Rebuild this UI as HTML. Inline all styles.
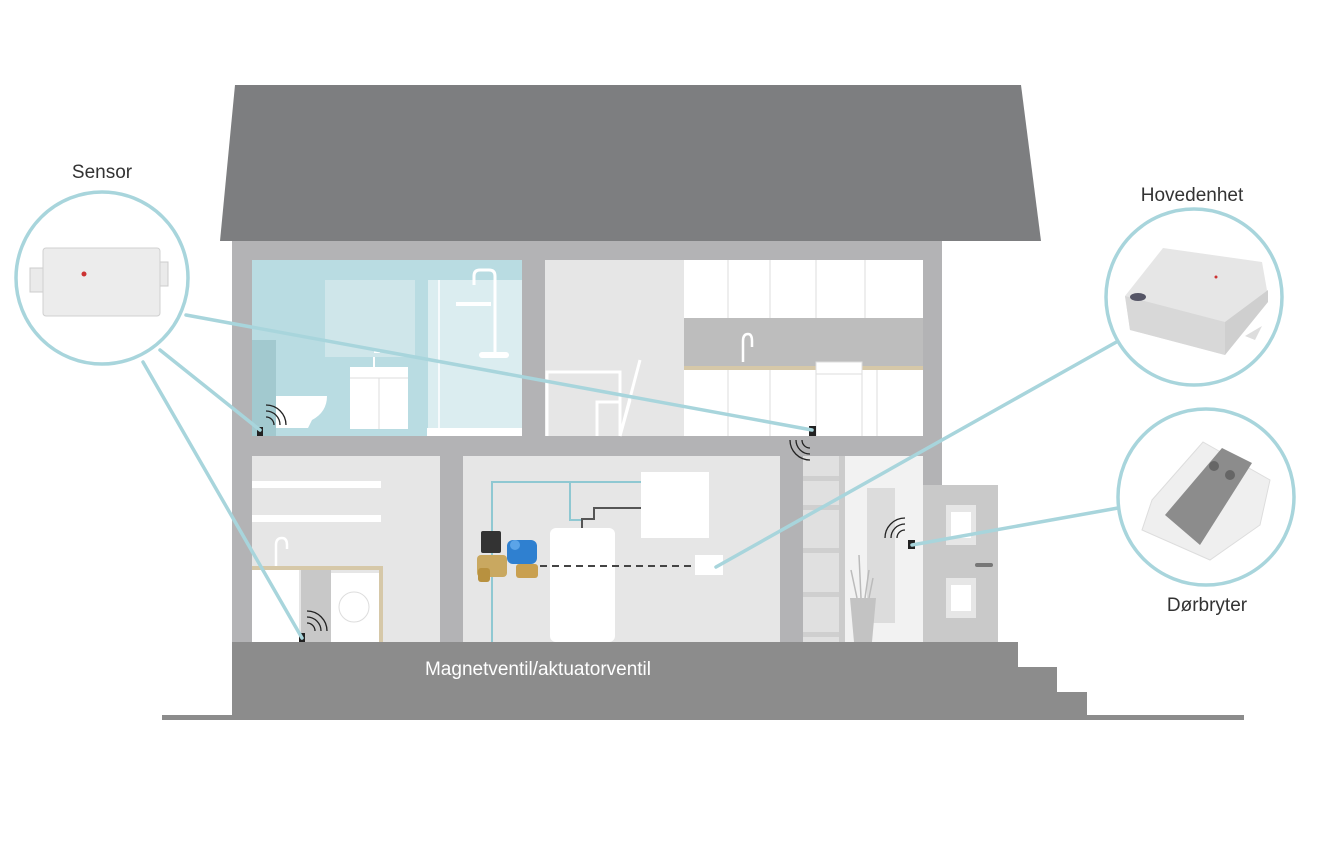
<!DOCTYPE html>
<html><head><meta charset="utf-8"><style>
html,body{margin:0;padding:0;background:#fff;width:1331px;height:842px;overflow:hidden}
text{font-family:"Liberation Sans",sans-serif}
</style></head><body>
<svg width="1331" height="842" viewBox="0 0 1331 842" xmlns="http://www.w3.org/2000/svg">
<rect width="1331" height="842" fill="#fff"/>
<polygon points="235,85 1021,85 1041,241 220,241" fill="#7d7e80"/>
<rect x="232" y="241" width="710" height="404" fill="#b3b3b5"/>
<!-- bathroom -->
<rect x="252" y="260" width="270" height="176" fill="#b9dce2"/>
<rect x="325" y="280" width="90" height="77" fill="#cfe6ea"/>
<rect x="428" y="280" width="94" height="148" fill="#dbedf0"/>
<rect x="427" y="428" width="95" height="8" fill="#fff"/>
<line x1="439" y1="280" x2="439" y2="428" stroke="#fff" stroke-width="1.5"/>
<path d="M474,285 V276 Q474,270 480,270 H489 Q495,270 495,276 V355" fill="none" stroke="#fff" stroke-width="3"/>
<rect x="456" y="302" width="35" height="4" fill="#fff"/>
<rect x="479" y="352" width="30" height="6" rx="3" fill="#fff"/>
<rect x="252" y="340" width="24" height="96" fill="#a2c9cf"/>
<path d="M276,396 H327 Q327,412 312,420 L308,428 H276 Z" fill="#fff"/>
<rect x="350" y="367" width="58" height="62" fill="#fff"/>
<line x1="350" y1="378" x2="408" y2="378" stroke="#ddd"/>
<line x1="379" y1="378" x2="379" y2="429" stroke="#ddd"/>
<path d="M374,367 V357 M374,352 h6" stroke="#fff" stroke-width="2"/>
<!-- kitchen -->
<rect x="545" y="260" width="378" height="176" fill="#e6e6e6"/>
<rect x="684" y="260" width="239" height="58" fill="#fff"/>
<rect x="684" y="318" width="239" height="48" fill="#bdbdbd"/>
<rect x="684" y="366" width="239" height="4" fill="#d6c8a8"/>
<rect x="684" y="370" width="239" height="66" fill="#fff"/>
<g stroke="#ddd" stroke-width="1">
<line x1="728" y1="260" x2="728" y2="318"/><line x1="770" y1="260" x2="770" y2="318"/><line x1="816" y1="260" x2="816" y2="318"/><line x1="865" y1="260" x2="865" y2="318"/>
<line x1="728" y1="370" x2="728" y2="436"/><line x1="770" y1="370" x2="770" y2="436"/><line x1="816" y1="363" x2="816" y2="436"/><line x1="862" y1="363" x2="862" y2="436"/><line x1="877" y1="370" x2="877" y2="436"/>
</g>
<rect x="816" y="362" width="46" height="12" fill="#fff" stroke="#ddd"/>
<path d="M743,362 V341 Q743,334 748,334 Q752,334 752,341 V347" fill="none" stroke="#fff" stroke-width="2.5"/>
<path d="M547,436 V372 H620 V436 M597,436 V402 H620 M620,436 L640,360 M620,436 L630,400" fill="none" stroke="#fff" stroke-width="3"/>
<!-- laundry -->
<rect x="252" y="456" width="188" height="186" fill="#e6e6e6"/>
<rect x="252" y="481" width="129" height="7" fill="#fff"/>
<rect x="252" y="515" width="129" height="7" fill="#fff"/>
<rect x="252" y="566" width="131" height="4" fill="#d6c8a8"/>
<rect x="379" y="566" width="4" height="76" fill="#d6c8a8"/>
<rect x="252" y="570" width="47" height="72" fill="#fff"/>
<rect x="301" y="570" width="30" height="72" fill="#c8c8c8"/>
<rect x="331" y="573" width="48" height="69" fill="#fff"/>
<circle cx="354" cy="607" r="15" fill="none" stroke="#ddd"/>
<path d="M276,566 V545 Q276,538 282,538 Q287,538 287,545 V549" fill="none" stroke="#fff" stroke-width="2.5"/>
<!-- utility -->
<rect x="463" y="456" width="317" height="186" fill="#e6e6e6"/>
<rect x="641" y="472" width="68" height="66" fill="#fff"/>
<rect x="550" y="528" width="65" height="114" rx="6" fill="#fff"/>
<path d="M492,642 V482 H641 M570,482 V520 H582" fill="none" stroke="#8fc8d2" stroke-width="2"/>
<path d="M582,528 V519 H594 V508 H641" fill="none" stroke="#555" stroke-width="2"/>
<line x1="540" y1="566" x2="695" y2="566" stroke="#444" stroke-width="2" stroke-dasharray="7,5"/>
<rect x="695" y="555" width="28" height="20" fill="#fff"/>
<rect x="481" y="531" width="20" height="22" rx="2" fill="#333"/>
<rect x="477" y="555" width="30" height="22" rx="4" fill="#c9a860"/>
<rect x="478" y="568" width="12" height="14" rx="3" fill="#b8913f"/>
<rect x="507" y="540" width="30" height="24" rx="6" fill="#2f80d0"/>
<circle cx="515" cy="545" r="5" fill="#5ba4e8"/>
<rect x="516" y="564" width="22" height="14" rx="3" fill="#c9a050"/>
<!-- stairs -->
<rect x="803" y="456" width="42" height="186" fill="#e0e0e0"/>
<g fill="#cfcfcf"><rect x="803" y="476" width="36" height="5"/><rect x="803" y="505" width="36" height="5"/><rect x="803" y="548" width="36" height="5"/><rect x="803" y="592" width="36" height="5"/><rect x="803" y="632" width="36" height="5"/></g>
<rect x="839" y="456" width="6" height="186" fill="#ccc"/>
<!-- hall -->
<rect x="845" y="456" width="78" height="186" fill="#f2f2f2"/>
<rect x="867" y="488" width="28" height="135" fill="#dcdcdc"/>
<polygon points="850,598 876,598 872,642 854,642" fill="#c3c3c3"/>
<path d="M857,598 L851,570 M861,598 L859,555 M865,598 L869,570 M869,598 L873,578" stroke="#bbb" stroke-width="1.5"/>
<!-- door -->
<rect x="923" y="485" width="75" height="157" fill="#c9c9c9"/>
<rect x="946" y="505" width="30" height="40" fill="#e6e6e6"/><rect x="951" y="512" width="20" height="26" fill="#fff"/>
<rect x="946" y="578" width="30" height="40" fill="#e6e6e6"/><rect x="951" y="585" width="20" height="26" fill="#fff"/>
<rect x="975" y="563" width="18" height="4" rx="2" fill="#777"/>
<!-- base -->
<polygon points="232,642 1018,642 1018,667 1057,667 1057,692 1087,692 1087,717 232,717" fill="#8c8c8c"/>
<rect x="162" y="715" width="1082" height="5" fill="#8c8c8c"/>
<text x="538" y="675" font-size="19" fill="#fff" text-anchor="middle">Magnetventil/aktuatorventil</text>
<!-- sensors -->
<g fill="#222"><rect x="257" y="427" width="6" height="9"/><rect x="809" y="426" width="7" height="10"/><rect x="299" y="633" width="6" height="9"/><rect x="908" y="540" width="7" height="9"/></g>
<g fill="none" stroke="#222" stroke-width="1.3">
<path d="M266,417 A8,8 0 0 1 274,425 M266,411 A14,14 0 0 1 280,425 M266,405 A20,20 0 0 1 286,425"/>
<path d="M307,623 A8,8 0 0 1 315,631 M307,617 A14,14 0 0 1 321,631 M307,611 A20,20 0 0 1 327,631"/>
<path d="M899,538 A8,8 0 0 1 907,530 M893,538 A14,14 0 0 1 907,524 M887,538 A20,20 0 0 1 907,518" transform="translate(-2,0)"/>
<path d="M802,440 A8,8 0 0 0 810,448 M796,440 A14,14 0 0 0 810,454 M790,440 A20,20 0 0 0 810,460"/>
</g>
<!-- connector lines -->
<g stroke="#a8d5dc" stroke-width="3.5" stroke-linecap="round">
<line x1="186" y1="315" x2="812" y2="430"/>
<line x1="160" y1="350" x2="260" y2="430"/>
<line x1="143" y1="362" x2="302" y2="638"/>
<line x1="1120" y1="340" x2="716" y2="567"/>
<line x1="1118" y1="508" x2="912" y2="545"/>
</g>
<circle cx="102" cy="278" r="86" fill="#fff" stroke="#a8d5dc" stroke-width="3.5"/>
<circle cx="1194" cy="297" r="88" fill="#fff" stroke="#a8d5dc" stroke-width="3.5"/>
<circle cx="1206" cy="497" r="88" fill="#fff" stroke="#a8d5dc" stroke-width="3.5"/>
<!-- sensor device -->
<rect x="30" y="268" width="20" height="24" fill="#eaeaea" stroke="#ccc"/>
<rect x="150" y="262" width="18" height="24" fill="#eaeaea" stroke="#ccc"/>
<rect x="43" y="248" width="117" height="68" rx="3" fill="#ececec" stroke="#d0d0d0"/>
<circle cx="84" cy="274" r="2.5" fill="#c33"/>
<!-- main unit -->
<polygon points="1125,296 1163,248 1262,262 1268,296 1225,355 1130,330" fill="#e6e6e6"/>
<polygon points="1125,296 1225,322 1225,355 1130,330" fill="#d8d8d8"/>
<polygon points="1225,322 1268,290 1268,302 1225,355" fill="#cfcfcf"/>
<polygon points="1245,336 1262,326 1255,340" fill="#ddd"/>
<circle cx="1216" cy="277" r="1.5" fill="#c33"/>
<ellipse cx="1138" cy="297" rx="8" ry="4" fill="#556"/>
<!-- remote -->
<polygon points="1152,500 1203,442 1270,480 1260,525 1210,560 1142,530" fill="#efefef" stroke="#ddd"/>
<polygon points="1165,515 1222,448 1252,463 1200,545" fill="#8c8c8c"/>
<circle cx="1214" cy="466" r="5" fill="#666"/><circle cx="1230" cy="475" r="5" fill="#666"/>
<text x="102" y="178" font-size="19" fill="#333" text-anchor="middle">Sensor</text>
<text x="1192" y="201" font-size="19" fill="#333" text-anchor="middle">Hovedenhet</text>
<text x="1207" y="611" font-size="19" fill="#333" text-anchor="middle">Dørbryter</text>
</svg>
</body></html>
